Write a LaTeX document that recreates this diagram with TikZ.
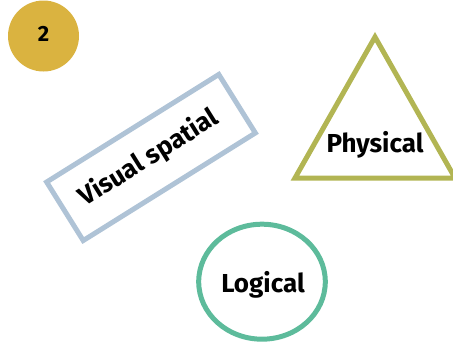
\documentclass[tikz,border=0pt]{standalone}
\usepackage{fontspec}
\setmainfont{Fira Sans}
\usetikzlibrary{shapes.geometric}
\definecolor{gold}{RGB}{218,179,64}
\definecolor{steel}{RGB}{175,195,214}
\definecolor{olive}{RGB}{178,181,83}
\definecolor{teal}{RGB}{93,187,155}
\tikzset{
  lbl/.style={font=\bfseries\fontsize{26}{30}\selectfont, text=black, inner sep=0pt},
  outline/.style={line width=5pt}
}
\begin{document}
\begin{tikzpicture}[x=1pt,y=-1pt]
\useasboundingbox (0,0) rectangle (453,343);
% badge
\node[circle, fill=gold, minimum size=71pt, inner sep=0pt] (badge) at (43.5,36) {};
\node[font=\bfseries\fontsize{22}{24}\selectfont, inner sep=0pt] (num) at (43.5,34) {2};
% visual spatial
\node[draw=steel, outline, rectangle, minimum width=203pt, minimum height=69pt, rotate=32] (vis) at (151,157.5) {};
\node[lbl, rotate=32] (vistext) at (149,158) {Visual spatial};
% physical
\coordinate (ta) at (375,37);
\coordinate (tl) at (295,178);
\coordinate (tr) at (455,178);
\draw[olive, outline, line join=miter] (ta) -- (tl) -- (tr) -- cycle;
\node[lbl] (phys) at (375,145) {Physical};
% logical
\draw[teal, outline] (262,281.7) ellipse [x radius=63.3, y radius=57.5];
\node[lbl] (logic) at (263,285) {Logical};
\end{tikzpicture}
\end{document}
